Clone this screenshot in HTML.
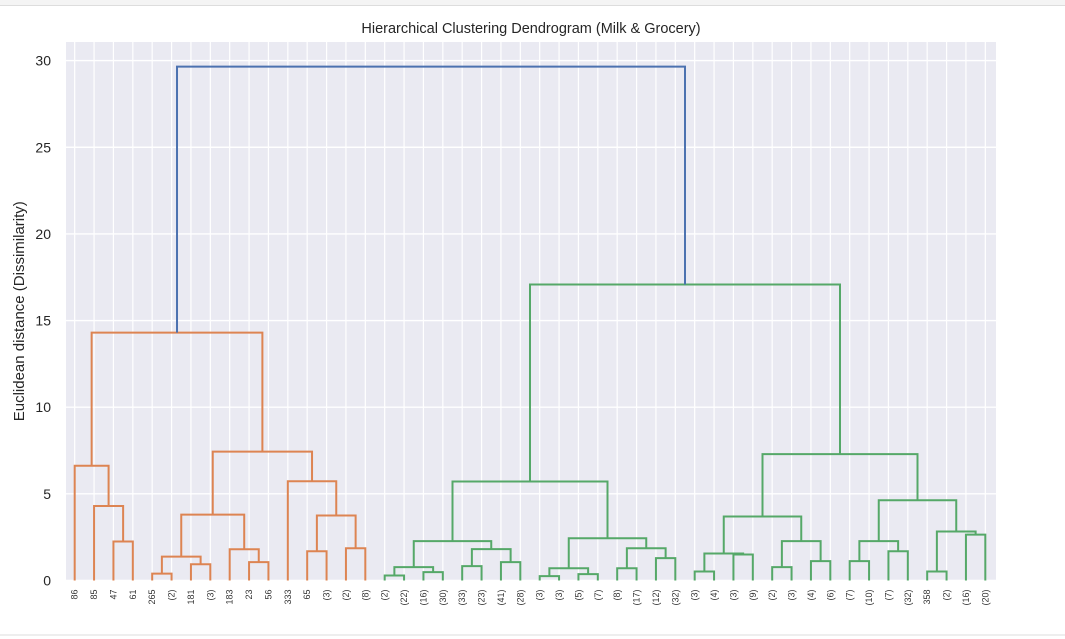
<!DOCTYPE html>
<html><head><meta charset="utf-8"><style>
html,body{margin:0;padding:0;background:#fff;}
body{width:1065px;height:639px;overflow:hidden;position:relative;font-family:"Liberation Sans",sans-serif;}
</style></head><body>
<div style="position:absolute;left:0;top:0;width:1065px;height:5px;background:#f4f4f4;border-bottom:1px solid #ddd;"></div>
<svg id="chart" width="1065" height="639" style="position:absolute;left:0;top:0" xmlns="http://www.w3.org/2000/svg"></svg>
<script>
const leafLabels = ["86","85","47","61","265","(2)","181","(3)","183","23","56","333","65","(3)","(2)","(8)","(2)","(22)","(16)","(30)","(33)","(23)","(41)","(28)","(3)","(3)","(5)","(7)","(8)","(17)","(12)","(32)","(3)","(4)","(3)","(9)","(2)","(3)","(4)","(6)","(7)","(10)","(7)","(32)","358","(2)","(16)","(20)"];
const mergeLeft  = [2,1,0,4,6,51,9,8,53,12,14,57,11,56,50, 16,18,63,20,22,66,65,24,26,70,28,30,73,72,69, 32,34,78,36,38,81,80,40,42,85,44,46,88,87,84,77,62];
const mergeRight = [3,48,49,5,7,52,10,54,55,13,15,58,59,60,61, 17,19,64,21,23,67,68,25,27,71,29,31,74,75,76, 33,35,79,37,39,82,83,41,43,86,45,47,89,90,91,92,93];
const mergeHeight= [2.25,4.3,6.62,0.4,0.94,1.38,1.06,1.8,3.8,1.69,1.86,3.75,5.73,7.44,14.3, 0.29,0.48,0.77,0.83,1.06,1.81,2.27,0.25,0.37,0.71,0.71,1.29,1.86,2.44,5.71, 0.52,1.5,1.56,0.77,1.12,2.27,3.69,1.12,1.69,2.27,0.52,2.65,2.83,4.63,7.29,17.08,29.65];
const yTicks = [0,5,10,15,20,25,30];

const svg = document.getElementById('chart');
const NS = 'http://www.w3.org/2000/svg';
const PL=66, PR=996, PT=42, PB=580.5;
const nLeaf = leafLabels.length;
const xs = i => PL - 1 + (10*i+5)/(10*nLeaf) * (PR-PL);
const ys = v => PB - v*17.33;
function mk(tag, attrs){const e=document.createElementNS(NS,tag);for(const k in attrs)e.setAttribute(k,attrs[k]);svg.appendChild(e);return e;}

const bg = mk('rect',{x:PL,y:PT,width:PR-PL,height:PB-PT,fill:'#eaeaf2'});


for(let i=0;i<nLeaf;i++){
  const g = mk('line',{x1:xs(i),x2:xs(i),y1:PT,y2:PB,stroke:'#fff','stroke-width':1.2});
  
  
  const t = mk('text',{x:0,y:0,'font-size':9,fill:'#333','text-anchor':'end',transform:`translate(${xs(i)+3},${PB+9}) rotate(-90)`});
  t.textContent = leafLabels[i];
  
  
}
yTicks.forEach(v=>{
  const g = mk('line',{x1:PL,x2:PR,y1:ys(v),y2:ys(v),stroke:'#fff','stroke-width':1.4});
  
  
  const t = mk('text',{x:51,y:ys(v)+5,'font-size':14,fill:'#262626','text-anchor':'end'});
  t.textContent = v;
  
  
});

const nodeX = [], nodeH = [], nodeMax = [];
for(let i=0;i<nLeaf;i++){nodeX.push(xs(i));nodeH.push(0);nodeMax.push(i);}
const maxH = Math.max(...mergeHeight);
for(let k=0;k<mergeHeight.length;k++){
  const a=mergeLeft[k], b=mergeRight[k], h=mergeHeight[k];
  const mx = Math.max(nodeMax[a],nodeMax[b]);
  let col = h > 0.7*maxH ? '#4c72b0' : (mx < 16 ? '#dd8452' : '#55a868');
  const p = mk('path',{d:`M${nodeX[a]},${ys(nodeH[a])}V${ys(h)}H${nodeX[b]}V${ys(nodeH[b])}`,fill:'none',stroke:col,'stroke-width':2});
  
  
  nodeX.push((nodeX[a]+nodeX[b])/2); nodeH.push(h); nodeMax.push(mx);
}

const title = mk('text',{x:531,y:33,'font-size':14.5,fill:'#262626','text-anchor':'middle'});
title.textContent = 'Hierarchical Clustering Dendrogram (Milk & Grocery)';


const yl = mk('text',{x:0,y:0,'font-size':15,fill:'#262626','text-anchor':'middle',transform:`translate(24,${(PT+PB)/2}) rotate(-90)`});
yl.textContent = 'Euclidean distance (Dissimilarity)';


const bl = mk('line',{x1:0,x2:1065,y1:635,y2:635,stroke:'#ddd','stroke-width':1});


</script>
</body></html>
